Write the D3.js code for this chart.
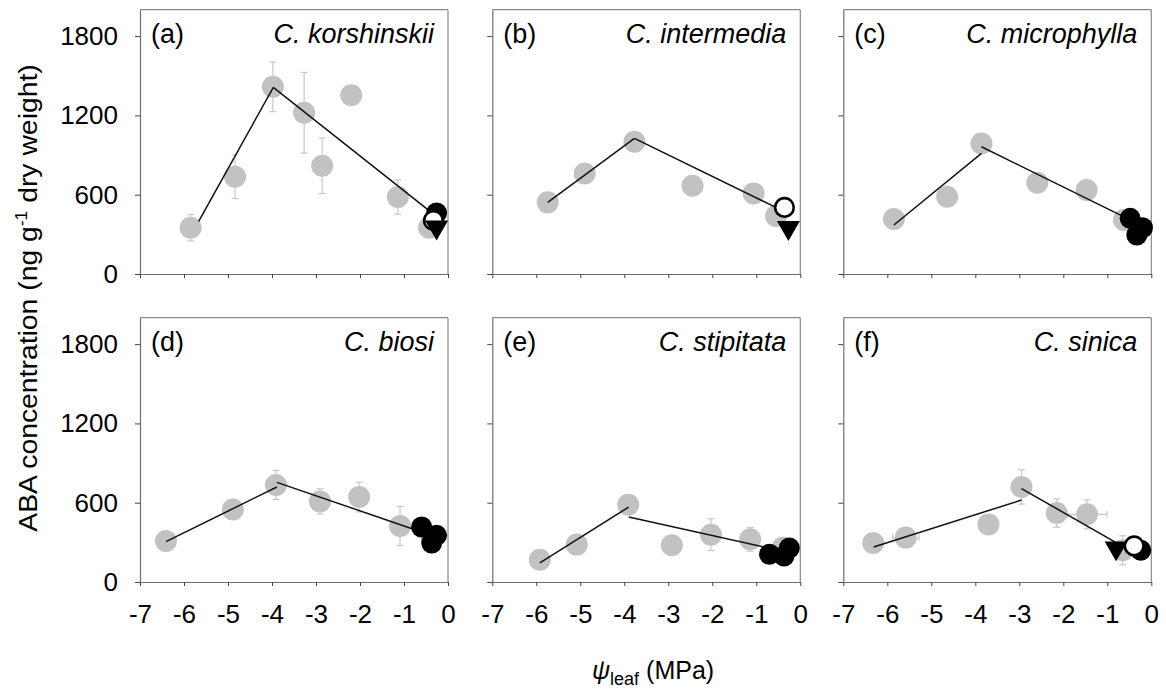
<!DOCTYPE html>
<html><head><meta charset="utf-8">
<script src="https://cdn.jsdelivr.net/npm/d3@7"></script>
<style>
body{margin:0;background:#fff}
svg{display:block;font-family:Arial,"Liberation Sans",sans-serif}
</style>
</head><body>
<svg id="chart" width="1166" height="693"></svg>
<script>
// ---------------- data ----------------
const panelTags = ["(a)","(b)","(c)","(d)","(e)","(f)"];
const speciesNames = ["C. korshinskii","C. intermedia","C. microphylla","C. biosi","C. stipitata","C. sinica"];
const xTicks = [-7,-6,-5,-4,-3,-2,-1,0];
const xTickLabels = ["-7","-6","-5","-4","-3","-2","-1","0"];
const yTicks = [0,600,1200,1800];
const yTickLabels = ["0","600","1200","1800"];

// grey symbols: leaf water potential (MPa), ABA (ng g-1), SE
const grayPsi = [
  [-5.85,-4.84,-3.98,-3.27,-2.86,-2.20,-1.14,-0.43],
  [-5.74,-4.90,-3.77,-2.45,-1.06,-0.55],
  [-5.85,-4.64,-3.86,-2.59,-1.47,-0.62],
  [-6.41,-4.89,-3.91,-2.91,-2.02,-1.09,-0.37],
  [-5.92,-5.08,-3.91,-2.92,-2.03,-1.14,-0.40],
  [-6.32,-5.58,-3.70,-2.95,-2.15,-1.46,-0.65]
];
const grayAba = [
  [350,736,1417,1220,819,1352,582,350],
  [542,761,1001,668,610,439],
  [416,585,988,691,635,408],
  [310,548,734,610,643,424,328],
  [169,283,585,278,358,323,260],
  [295,336,436,719,522,512,240]
];
const grayAbaErr = [
  [100,165,188,305,210,0,130,0],
  [0,70,0,0,0,0],
  [0,0,0,0,0,0],
  [0,0,110,95,113,147,0],
  [0,0,0,0,120,90,0],
  [0,0,0,130,107,110,110]
];
const grayPsiErr = [
  [0,0,0,0,0,0,0,0],
  [0,0,0,0,0,0],
  [0,0,0,0,0,0],
  [0,0,0,0,0,0,0],
  [0,0,0,0,0,0,0],
  [0,0.3,0,0,0,0.45,0]
];
// black filled circles
const blackPsi = [[-0.26],[],[-0.48,-0.20,-0.33],[-0.60,-0.26,-0.37],[-0.70,-0.37,-0.25],[-0.24]];
const blackAba = [[462],[],[421,350,295],[416,353,295],[210,197,257],[240]];
// open circles
const openPsi = [[-0.33],[-0.36],[],[],[],[-0.39]];
const openAba = [[405],[504],[],[],[],[273]];
// black down-triangles
const triPsi = [[-0.26],[-0.27],[],[],[],[-0.80]];
const triAba = [[355],[350],[],[],[],[257]];
// two fitted segments per panel: [psiStart, abaStart, psiEnd, abaEnd]
const fitSeg1 = [
  [-5.67,396,-3.97,1412],
  [-5.74,542,-3.77,1026],
  [-5.85,371,-3.86,913],
  [-6.41,305,-3.89,719],
  [-5.92,144,-3.90,567],
  [-6.31,265,-2.95,620]
];
const fitSeg2 = [
  [-3.97,1412,-0.30,446],
  [-3.77,1026,-0.51,497],
  [-3.86,963,-0.63,434],
  [-3.89,754,-0.75,396],
  [-3.90,492,-0.76,260],
  [-2.95,707,-0.82,302]
];
const xDomain = [-7,0];
const yDomain = [0,2000];

// ---------------- layout ----------------
const colX = [140,492.3,843.3];
const rowTop = [9.7,317.7];
const pw = 308, ph = 264.3;
const svg = d3.select("#chart");
const grayFill = "#c2c2c2";
const errColor = "#c8c8c8";

panelTags.forEach((tag,i)=>{
  const col = i%3, row = Math.floor(i/3);
  const x = d3.scaleLinear().domain(xDomain).range([colX[col], colX[col]+pw]);
  const y = d3.scaleLinear().domain(yDomain).range([rowTop[row]+ph, rowTop[row]]);
  const g = svg.append("g");

  // frame top / right
  g.append("line").attr("x1",x(xDomain[0])).attr("x2",x(xDomain[1]))
    .attr("y1",y(yDomain[1])).attr("y2",y(yDomain[1]))
    .attr("stroke","#8a8a8a").attr("stroke-width",1.2);
  g.append("line").attr("x1",x(xDomain[1])).attr("x2",x(xDomain[1]))
    .attr("y1",y(yDomain[0])).attr("y2",y(yDomain[1]))
    .attr("stroke","#8a8a8a").attr("stroke-width",1.2);

  // axes
  const xa = d3.axisBottom(x).tickValues(xTicks).tickSize(4).tickSizeOuter(0).tickPadding(19)
    .tickFormat((d,k)=> row===1 ? xTickLabels[k] : "");
  const gx = g.append("g").attr("transform",`translate(0,${y(0)})`).call(xa);
  const ya = d3.axisLeft(y).tickValues(yTicks).tickSize(5).tickSizeOuter(0).tickPadding(17)
    .tickFormat((d,k)=> col===0 ? yTickLabels[k] : "");
  const gy = g.append("g").attr("transform",`translate(${x(xDomain[0])},0)`).call(ya);
  [gx,gy].forEach(a=>{
    a.select(".domain").attr("stroke","#6e6e6e").attr("stroke-width",1.2);
    a.selectAll(".tick line").attr("stroke","#444").attr("stroke-width",1);
    a.selectAll(".tick text").attr("fill","#000").attr("font-size",26)
      .attr("font-family","Arial, 'Liberation Sans', sans-serif");
  });

  // error bars
  const pts = grayPsi[i].map((p,k)=>({p, a:grayAba[i][k], e:grayAbaErr[i][k], xe:grayPsiErr[i][k]}));
  const eb = g.append("g").attr("stroke",errColor).attr("stroke-width",1.2).attr("fill","none");
  pts.filter(d=>d.e>0).forEach(d=>{
    eb.append("line").attr("x1",x(d.p)).attr("x2",x(d.p)).attr("y1",y(d.a-d.e)).attr("y2",y(d.a+d.e));
    [d.a-d.e,d.a+d.e].forEach(v=>eb.append("line").attr("x1",x(d.p)-3.5).attr("x2",x(d.p)+3.5).attr("y1",y(v)).attr("y2",y(v)));
  });
  pts.filter(d=>d.xe>0).forEach(d=>{
    eb.append("line").attr("x1",x(d.p-d.xe)).attr("x2",x(d.p+d.xe)).attr("y1",y(d.a)).attr("y2",y(d.a));
    [d.p-d.xe,d.p+d.xe].forEach(v=>eb.append("line").attr("x1",x(v)).attr("x2",x(v)).attr("y1",y(d.a)-3.5).attr("y2",y(d.a)+3.5));
  });

  // grey circles
  g.append("g").selectAll("circle").data(pts).join("circle")
    .attr("cx",d=>x(d.p)).attr("cy",d=>y(d.a)).attr("r",11).attr("fill",grayFill);

  // fitted lines
  [fitSeg1[i],fitSeg2[i]].forEach(s=>{
    g.append("line").attr("x1",x(s[0])).attr("y1",y(s[1])).attr("x2",x(s[2])).attr("y2",y(s[3]))
      .attr("stroke","#111").attr("stroke-width",1.5);
  });

  // black circles
  g.append("g").selectAll("circle").data(blackPsi[i].map((p,k)=>({p,a:blackAba[i][k]}))).join("circle")
    .attr("cx",d=>x(d.p)).attr("cy",d=>y(d.a)).attr("r",10.5).attr("fill","#000");
  // open circles
  g.append("g").selectAll("circle").data(openPsi[i].map((p,k)=>({p,a:openAba[i][k]}))).join("circle")
    .attr("cx",d=>x(d.p)).attr("cy",d=>y(d.a)).attr("r",9.3).attr("fill","#fff")
    .attr("stroke","#000").attr("stroke-width",2.6);
  // triangles (down)
  const tri = d3.symbol(d3.symbolTriangle, 230);
  g.append("g").selectAll("path").data(triPsi[i].map((p,k)=>({p,a:triAba[i][k]}))).join("path")
    .attr("d",tri).attr("transform",d=>`translate(${x(d.p)},${y(d.a)}) rotate(180)`).attr("fill","#000");

  // labels
  g.append("text").attr("x",x(xDomain[0])+11).attr("y",rowTop[row]+33.5)
    .attr("font-size",27).attr("fill","#000").text(tag);
  g.append("text").attr("x",x(xDomain[1])-14).attr("y",rowTop[row]+33.5)
    .attr("font-size",27).attr("font-style","italic").attr("text-anchor","end")
    .attr("fill","#000").text(speciesNames[i]);
});

// axis titles
const xt = svg.append("text").attr("x",653).attr("y",679).attr("text-anchor","middle")
  .attr("font-size",25).attr("fill","#000");
xt.append("tspan").attr("font-style","italic").text("\u03C8");
xt.append("tspan").attr("font-size",18).attr("dy",6).text("leaf");
xt.append("tspan").attr("dy",-6).text(" (MPa)");

const yt = svg.append("text").attr("text-anchor","middle")
  .attr("transform","translate(37,298) rotate(-90) scale(1.09,1)")
  .attr("font-size",26).attr("fill","#000");
yt.append("tspan").text("ABA  concentration (ng g");
yt.append("tspan").attr("font-size",16).attr("dy",-10).text("-1");
yt.append("tspan").attr("dy",10).text(" dry weight)");
</script>
</body></html>
